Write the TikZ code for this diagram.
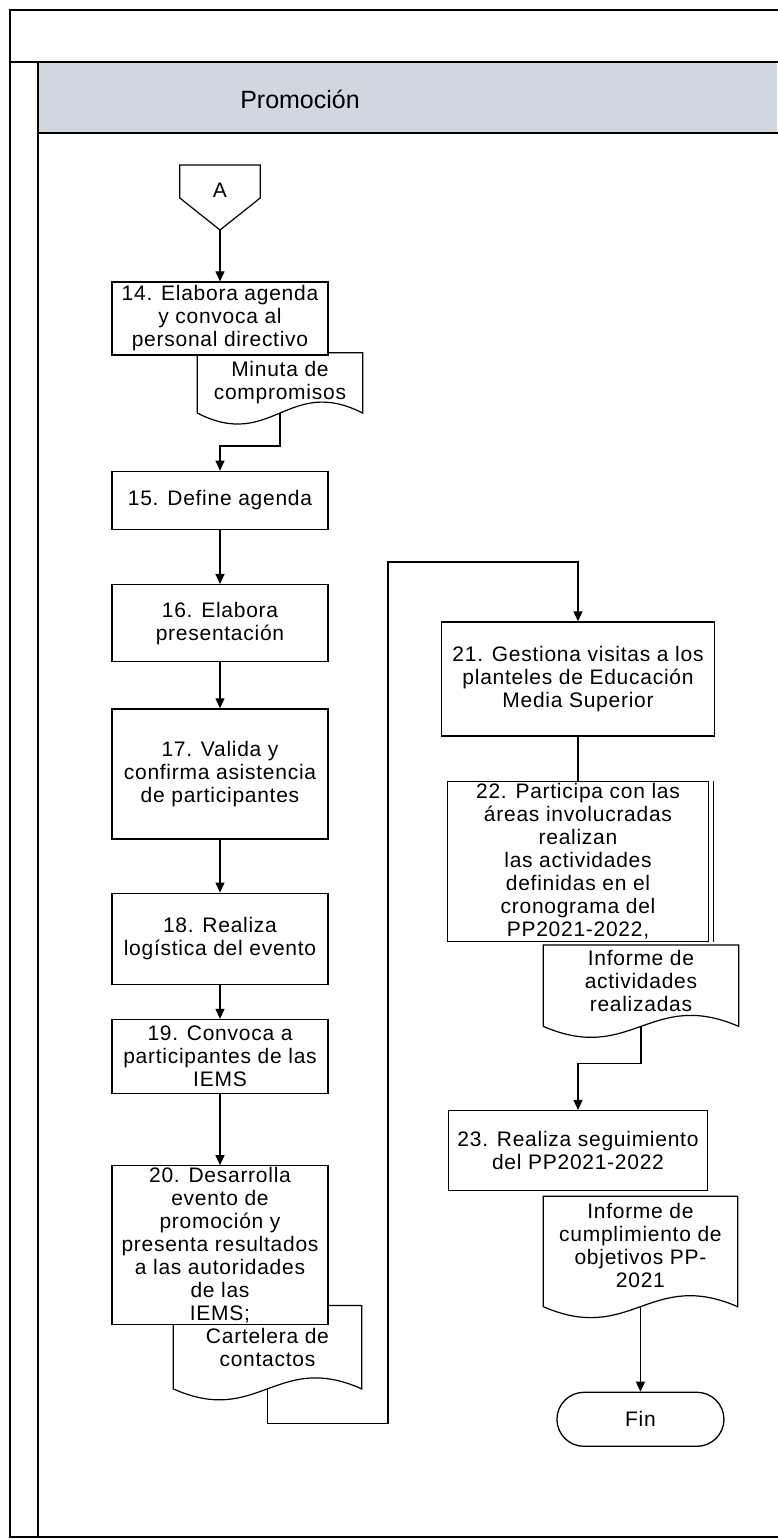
\documentclass[tikz,border=0pt]{standalone}
\usepackage{fontspec}
\setmainfont{Liberation Sans}
\newfontfamily\spacedfont[LetterSpace=3.5]{Liberation Sans}
\usepackage{tikz}
\usetikzlibrary{positioning,calc,arrows.meta,backgrounds}

\definecolor{lanegray}{RGB}{208,215,222}

% document symbol: box with a wavy lower edge
\newcommand{\docoutline}[1]{%
  \draw[link, fill=white] (#1.south west) -- (#1.north west) -- (#1.north east) -- (#1.south east)
    .. controls ($(#1.south east)!0.45!(#1.south west)+(0,38pt)$)
            and ($(#1.south west)!0.45!(#1.south east)+(0,-38pt)$) .. (#1.south west) -- cycle;}

\begin{document}
\begin{tikzpicture}[
    x=1pt, y=1pt,
    box/.style={rectangle, draw, line width=1.3pt, fill=white, minimum width=216pt,
                align=center, inner sep=1pt, font=\spacedfont\fontsize{21}{23}\selectfont},
    doc/.style={rectangle, inner sep=1pt, align=center, anchor=north east,
                font=\spacedfont\fontsize{21}{23}\selectfont},
    terminal/.style={rectangle, rounded corners=27pt, draw, line width=1.3pt,
                minimum width=167pt, minimum height=54pt, font=\spacedfont\fontsize{21}{23}\selectfont},
    link/.style={line width=1.2pt},
    arrow/.style={-{Triangle[length=10pt,width=9pt]}, line width=1.2pt},
    frame/.style={line width=2.5pt}
]
\useasboundingbox (0,0) rectangle (777,-1539);

% pool and lane
\fill[lanegray] (38,-62) rectangle (777,-133);
\draw[frame] (790,-10) -- (10,-10) -- (10,-1537) -- (790,-1537);
\draw[frame] (10,-62) -- (790,-62);
\draw[frame] (38,-62) -- (38,-1537);
\draw[frame] (38,-133) -- (790,-133);
\node[font=\fontsize{25}{28}\selectfont] (lane) at (300,-99) {Promoción};

% off-page connector
\node[font=\spacedfont\fontsize{21}{23}\selectfont, minimum width=80pt, minimum height=50pt,
      inner sep=0, anchor=north] (cA) at (220,-165) {A};
\draw[link] (cA.north west) -- (cA.north east) -- ([yshift=-33pt]cA.north east)
    -- ([yshift=-65pt]cA.north) coordinate (cAtip) -- ([yshift=-33pt]cA.north west) -- cycle;

% left column
\node[box, minimum height=73pt] (s14) at (220,-318.5) {14. Elabora agenda\\y convoca al\\personal directivo};
\node[box, minimum height=58pt, below=115pt of s14] (s15) {15. Define agenda};
\node[box, minimum height=77pt, below=54pt of s15] (s16) {16. Elabora\\presentación};
\node[box, minimum height=130pt, below=46pt of s16] (s17) {17. Valida y\\confirma asistencia\\de participantes};
\node[box, minimum height=91pt, below=53pt of s17] (s18) {18. Realiza\\logística del evento};
\node[box, minimum height=74pt, below=34pt of s18] (s19) {19. Convoca a\\participantes de las\\IEMS};
\node[box, minimum height=159pt, below=71pt of s19] (s20) {20. Desarrolla\\evento de\\promoción y\\presenta resultados\\a las autoridades\\de las\\IEMS;};

% right column
\node[box, minimum width=273pt, minimum height=114pt] (s21) at (578,-679) {21. Gestiona visitas a los\\planteles de Educación\\Media Superior};
\node[box, minimum width=261pt, minimum height=160pt, below=44pt of s21] (s22) {22. Participa con las\\áreas involucradas\\realizan\\las actividades\\definidas en el\\cronograma del\\PP2021-2022,};
\draw[link] ([xshift=4pt]s22.north east) -- ([xshift=4pt]s22.south east);
\node[box, minimum width=259pt, minimum height=80pt, below=168pt of s22] (s23) {23. Realiza seguimiento\\del PP2021-2022};

% documents
\node[doc, minimum width=165pt, minimum height=60pt] (d14) at ($(s14.south east)+(34,3)$) {Minuta de\\compromisos};
\node[doc, minimum width=188pt, minimum height=83pt] (d20) at ($(s20.south east)+(33,20)$) {Cartelera de\\contactos};
\node[doc, minimum width=195pt, minimum height=81pt, text depth=9pt] (d22) at ($(s22.south east)+(29.5,-3)$) {Informe de\\actividades\\realizadas};
\node[doc, minimum width=194pt, minimum height=110pt, text depth=12pt] (d23) at ($(s23.south east)+(29.5,-5)$) {Informe de\\cumplimiento de\\objetivos PP-\\2021};
\begin{scope}[on background layer]
  \docoutline{d14}
  \docoutline{d20}
  \docoutline{d22}
  \docoutline{d23}
\end{scope}

\node[terminal, below=85pt of d23] (fin) {Fin};

% connectors
\coordinate (loop) at (388,-562);
\draw[arrow] (cAtip) -- (s14.north);
\draw[arrow] (d14.south) -- ++(0,-33) -| (s15.north);
\draw[arrow] (s15) -- (s16);
\draw[arrow] (s16) -- (s17);
\draw[arrow] (s17) -- (s18);
\draw[arrow] (s18) -- (s19);
\draw[arrow] (s19) -- (s20);
\draw[arrow] (d20.south) -- ++(0,-35) -| (loop) -| (s21.north);
\draw[link] (s21) -- (s22);
\draw[arrow] (d22.south) -- ++(0,-37) -| (s23.north);
\draw[arrow] (d23.south) -- (fin);
\end{tikzpicture}
\end{document}
